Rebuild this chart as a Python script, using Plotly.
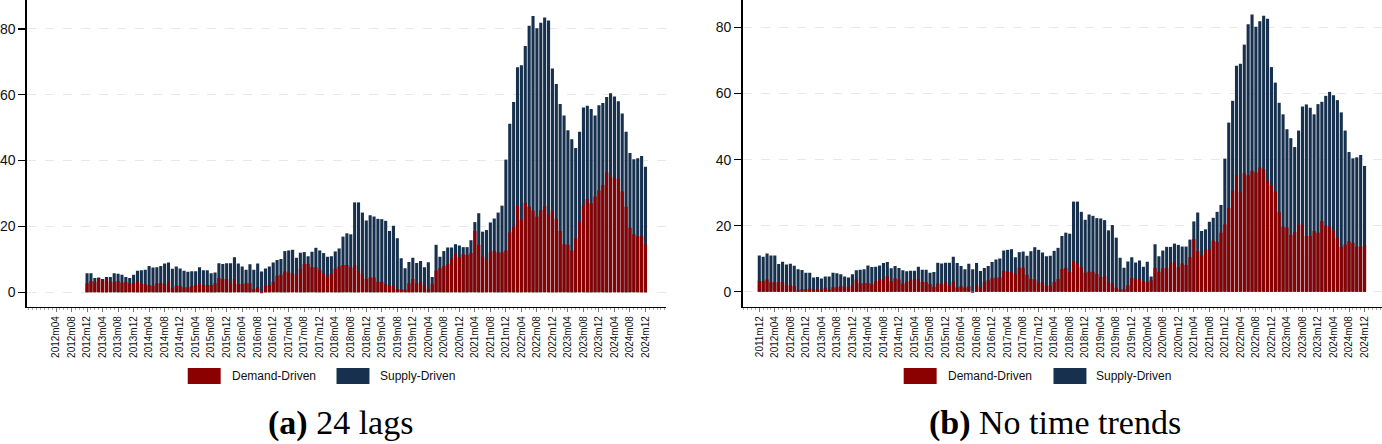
import plotly.graph_objects as go
import pandas as pd

# ---------------- data ----------------
months = [f"{p.year}m{p.month:02d}" for p in pd.period_range("2011-12", "2024-12", freq="M")]

# headline total (height of stacked bar), 2011m12 .. 2024m12
total = [
    11.0, 10.6, 11.6, 11.0, 11.0, 8.4, 9.1, 8.3, 8.5, 7.9, 6.8, 6.6,
    5.8, 5.8, 4.3, 4.5, 4.0, 4.6, 4.6, 5.8, 5.6, 5.3, 4.6, 4.3,
    5.3, 6.5, 6.7, 6.8, 8.0, 7.5, 7.6, 8.0, 8.7, 9.0, 7.1, 7.8,
    7.2, 6.5, 6.2, 6.4, 6.4, 7.6, 6.7, 6.7, 5.8, 6.0, 8.8, 8.6,
    8.8, 8.8, 10.6, 8.7, 7.8, 6.8, 8.5, 6.8, 8.7, 6.3, 7.2, 7.8,
    9.0, 9.8, 10.1, 12.5, 12.7, 12.9, 10.5, 12.0, 12.2, 10.9, 12.3, 13.5,
    12.7, 11.9, 10.8, 10.9, 12.4, 13.3, 16.9, 17.9, 17.6, 27.3, 27.3, 24.2,
    21.8, 23.4, 23.0, 22.3, 22.2, 21.7, 18.6, 20.2, 16.4, 10.3, 7.3, 9.2,
    10.5, 8.9, 9.5, 7.6, 9.1, 4.6, 14.4, 10.8, 12.5, 13.6, 13.6, 14.6,
    14.2, 13.7, 13.7, 15.8, 21.3, 24.0, 18.4, 18.9, 21.2, 22.4, 24.2, 26.3,
    40.3, 51.2, 57.8, 68.4, 69.0, 74.8, 81.0, 83.9, 80.2, 81.9, 83.5, 82.6,
    68.0, 63.3, 57.2, 53.7, 49.2, 46.5, 43.8, 48.8, 56.1, 56.7, 55.7, 53.7,
    56.8, 57.5, 59.3, 60.5, 59.5, 58.0, 54.3, 48.8, 42.3, 40.4, 40.7, 41.4,
    38.1,
]

# panel (a) 24 lags: demand-driven part, 2012m12 .. 2024m12
demand_a = [
    2.7, 3.4, 3.2, 4.3, 3.5, 4.0, 3.2, 3.2, 3.4, 2.9,
    3.2, 2.7, 2.7, 3.5, 2.5, 2.5, 2.2, 2.0, 2.7, 2.7,
    2.5, 3.4, 1.2, 2.0, 2.0, 1.5, 1.5, 1.9, 2.2, 2.5,
    2.2, 2.2, 2.2, 2.7, 4.3, 4.0, 4.0, 2.7, 4.0, 2.5,
    2.5, 2.7, 2.7, 1.0, 1.5, -0.3, 1.9, 2.2, 3.2, 5.0,
    5.3, 6.3, 6.0, 5.8, 5.3, 7.1, 8.6, 8.6, 7.6, 7.6,
    6.8, 5.6, 4.8, 5.6, 7.1, 7.8, 8.3, 8.3, 7.5, 8.2,
    6.5, 5.5, 4.0, 4.5, 4.5, 3.2, 3.2, 2.4, 2.0, 2.0,
    1.0, 0.8, 0.8, 2.7, 4.0, 2.7, 3.2, 2.1, 0.9, 2.6,
    6.6, 7.3, 8.0, 8.5, 10.2, 11.6, 10.6, 11.6, 11.3, 11.9,
    18.6, 14.4, 10.8, 10.0, 12.1, 12.6, 12.1, 12.1, 12.7, 18.2,
    19.9, 26.2, 22.0, 27.2, 26.0, 24.8, 23.0, 25.0, 26.2, 23.7,
    24.8, 22.3, 18.6, 14.6, 14.4, 12.7, 16.4, 21.5, 26.5, 28.3,
    27.0, 29.1, 30.9, 32.6, 36.4, 35.1, 34.8, 34.5, 30.6, 26.0,
    19.6, 17.6, 17.0, 17.0, 14.6,
]

# panel (b) no time trends: demand-driven part, 2011m12 .. 2024m12
demand_b = [
    3.3, 3.3, 3.7, 2.9, 2.9, 3.0, 3.0, 2.1, 2.1, 1.8,
    0.5, 0.8, 0.8, 1.0, 0.7, 0.9, 0.7, 1.2, 0.7, 1.4,
    1.4, 1.8, 1.5, 1.5, 2.0, 3.7, 2.6, 2.7, 2.7, 2.3,
    3.2, 3.8, 3.7, 4.7, 3.2, 4.1, 3.7, 2.5, 3.1, 3.7,
    3.7, 3.8, 3.0, 3.0, 2.4, 1.5, 2.5, 2.3, 2.9, 1.8,
    3.1, 1.3, 1.7, 1.3, 1.7, -0.3, 1.9, 1.3, 3.0, 3.5,
    4.1, 4.3, 4.3, 6.3, 6.0, 6.0, 5.4,
    7.3, 7.3, 5.2, 3.9, 3.7, 2.9, 2.9, 1.9, 1.9, 3.0,
    3.9, 6.9, 7.3, 6.0, 9.3, 8.4, 7.4, 5.8, 6.1, 6.1,
    5.4, 4.5, 4.8, 3.0, 2.5, 1.2, 0.7, 0.8, 2.0, 4.2,
    3.7, 4.0, 3.2, 3.0, 3.5, 7.3, 6.1, 7.1, 7.2, 8.6,
    9.1, 7.4, 8.6, 8.1, 10.5, 16.0, 12.3, 11.1, 12.6, 12.8,
    15.5, 15.1, 17.9, 20.4,
    25.4, 30.6, 35.3, 30.1, 35.9, 35.3, 36.6, 36.1, 37.6, 37.1,
    33.6, 32.3, 30.3, 24.2, 19.7, 19.5, 17.2, 18.1, 20.4, 20.2,
    16.9, 16.9, 18.4, 17.9, 21.4, 19.9, 19.7, 18.6, 16.3, 13.6,
    14.3, 15.3, 14.8, 13.7, 13.7, 14.1,
]

ticks_a = [
    "2012m04", "2012m08", "2012m12", "2013m04", "2013m08", "2013m12",
    "2014m04", "2014m08", "2014m12", "2015m04", "2015m08", "2015m12",
    "2016m04", "2016m08", "2016m12", "2017m04", "2017m08", "2017m12",
    "2018m04", "2018m08", "2018m12", "2019m04", "2019m08", "2019m12",
    "2020m04", "2020m08", "2020m12", "2021m04", "2021m08", "2021m12",
    "2022m04", "2022m08", "2022m12", "2023m04", "2023m08", "2023m12",
    "2024m04", "2024m08", "2024m12",
]
ticks_b = ["2011m12"] + ticks_a
yticks = [0, 20, 40, 60, 80]

# ---------------- styling ----------------
W, H = 1382, 444
RED = "#8b0000"
NAVY = "#16304d"
pos = {m: i for i, m in enumerate(months)}
months_a = months[pos["2012m12"]:]

def px(x):
    return x / W

def py(y):
    return 1 - y / H

fig = go.Figure()

def add_panel(xref, yref, mlist, tot, dem):
    xs = [pos[m] for m in mlist]
    fig.add_trace(go.Bar(x=xs, y=tot, marker=dict(color=NAVY, line=dict(width=0)),
                         width=0.8, name="Supply-Driven", xaxis=xref, yaxis=yref,
                         showlegend=False))
    fig.add_trace(go.Bar(x=xs, y=dem, marker=dict(color=RED, line=dict(width=0)),
                         width=0.8, name="Demand-Driven", xaxis=xref, yaxis=yref,
                         showlegend=False))

add_panel("x", "y", months_a, total[pos["2012m12"]:], demand_a)
add_panel("x2", "y2", months, total, demand_b)

def xaxis_cfg(domain, rng, ticks, anchor):
    return dict(
        domain=domain, range=rng, anchor=anchor,
        tickmode="array", tickvals=[pos[t] for t in ticks], ticktext=ticks,
        tickangle=-90, tickfont=dict(family="Liberation Sans", size=10, color="#111"),
        ticks="outside", ticklen=4, tickcolor="#777", tickwidth=1,
        minor=dict(tickmode="linear", tick0=0, dtick=1, ticks="outside",
                   ticklen=2, tickcolor="#aaa", showgrid=False),
        showline=True, linecolor="black", linewidth=1.5,
        showgrid=False, zeroline=False, fixedrange=True,
    )

def yaxis_cfg(domain, rng, anchor):
    return dict(
        domain=domain, range=rng, anchor=anchor,
        tickmode="array", tickvals=yticks, ticktext=[str(v) for v in yticks],
        tickfont=dict(family="Liberation Sans", size=14, color="#111"),
        ticks="outside", ticklen=7, tickcolor="black", tickwidth=1.2,
        showline=True, linecolor="black", linewidth=1.5,
        showgrid=True, gridcolor="#e8e8e8", griddash="dash", gridwidth=1,
        zeroline=False, fixedrange=True,
    )

ybottom = py(306.7)
fig.update_layout(
    width=W, height=H, autosize=False,
    margin=dict(l=0, r=0, t=0, b=0),
    paper_bgcolor="white", plot_bgcolor="white",
    barmode="overlay", showlegend=False, hovermode=False,
    xaxis=xaxis_cfg([px(25), px(665)], [-3.5, 161.3], ticks_a, "y"),
    yaxis=yaxis_cfg([ybottom, 1.0], [-4.4, 88.8], "x"),
    xaxis2=xaxis_cfg([px(741.7), 1.0], [-4.3, 160.5], ticks_b, "y2"),
    yaxis2=yaxis_cfg([ybottom, 1.0], [-4.5, 88.3], "x2"),
)

# ---------------- legends (drawn) and captions ----------------
shapes = []
annots = []

def legend(x_red, x_txt1, x_navy, x_txt2):
    y0, y1 = 368, 384
    shapes.append(dict(type="rect", xref="paper", yref="paper",
                       x0=px(x_red), x1=px(x_red + 33), y0=py(y1), y1=py(y0),
                       fillcolor=RED, line=dict(width=0)))
    shapes.append(dict(type="rect", xref="paper", yref="paper",
                       x0=px(x_navy), x1=px(x_navy + 33), y0=py(y1), y1=py(y0),
                       fillcolor=NAVY, line=dict(width=0)))
    for xt, txt in ((x_txt1, "Demand-Driven"), (x_txt2, "Supply-Driven")):
        annots.append(dict(x=px(xt), y=py(376), xref="paper", yref="paper",
                           text=txt, showarrow=False, xanchor="left", yanchor="middle",
                           font=dict(family="Liberation Sans", size=12, color="#111")))

legend(186, 228, 335, 377)
legend(903, 945, 1053, 1094)

annots.append(dict(x=px(339), y=py(423), xref="paper", yref="paper",
                   text="<b>(a)</b> 24 lags", showarrow=False,
                   xanchor="center", yanchor="middle",
                   font=dict(family="Liberation Serif", size=34, color="black")))
annots.append(dict(x=px(1055), y=py(423), xref="paper", yref="paper",
                   text="<b>(b)</b> No time trends", showarrow=False,
                   xanchor="center", yanchor="middle",
                   font=dict(family="Liberation Serif", size=34, color="black")))

fig.update_layout(shapes=shapes, annotations=annots)

fig.write_html(
    "out.html",
    config={"displayModeBar": False, "staticPlot": True},
    post_script="document.body.style.margin='0px';document.body.style.overflow='hidden';",
)
